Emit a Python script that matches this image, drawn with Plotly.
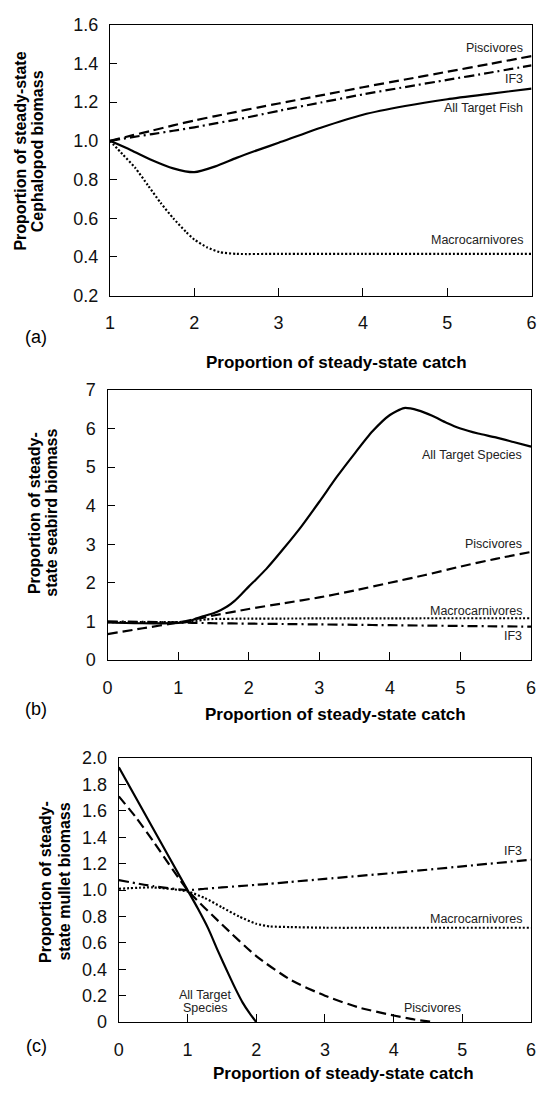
import plotly.graph_objects as go

W, H = 539, 1093
FONT = "Liberation Sans"

# ---- (a) Cephalopod biomass vs. catch multiplier ----
catch_a = [1.0, 1.25, 1.5, 1.75, 2.0, 2.25, 2.5, 2.75, 3.0, 3.5, 4.0, 4.5, 5.0, 5.5, 6.0]
a_piscivores = [1.0, 1.027, 1.053, 1.08, 1.105, 1.128, 1.15, 1.172, 1.193, 1.235, 1.277, 1.317, 1.357, 1.397, 1.438]
a_if3 = [1.0, 1.018, 1.035, 1.052, 1.07, 1.09, 1.11, 1.132, 1.155, 1.198, 1.24, 1.278, 1.315, 1.352, 1.39]
a_all_target = [1.0, 0.952, 0.9, 0.858, 0.838, 0.868, 0.912, 0.952, 0.99, 1.068, 1.135, 1.18, 1.215, 1.243, 1.27]
catch_a_macro = [1.0, 1.15, 1.3, 1.45, 1.6, 1.75, 1.9, 2.0, 2.15, 2.3, 2.5, 3.0, 4.0, 5.0, 6.0]
a_macro = [1.0, 0.93, 0.86, 0.77, 0.68, 0.6, 0.53, 0.49, 0.45, 0.425, 0.416, 0.416, 0.416, 0.416, 0.416]

# ---- (b) Seabird biomass ----
catch_b_all = [0.0, 0.5, 1.0, 1.15, 1.25, 1.35, 1.5, 1.6, 1.7, 1.8, 1.9, 2.0, 2.1, 2.25, 2.5, 2.75,
               3.0, 3.25, 3.5, 3.75, 4.0, 4.2, 4.4, 4.6, 4.8, 5.0, 5.25, 5.5, 5.75, 6.0]
b_all_target = [0.97, 0.95, 0.96, 0.99, 1.07, 1.13, 1.21, 1.29, 1.39, 1.53, 1.71, 1.9, 2.08, 2.36, 2.9, 3.47,
                4.1, 4.75, 5.35, 5.92, 6.35, 6.53, 6.47, 6.33, 6.15, 6.0, 5.87, 5.77, 5.65, 5.53]
catch_b = [0.0, 0.5, 1.0, 1.2, 1.4, 1.5, 2.0, 2.5, 3.0, 3.5, 4.0, 4.5, 5.0, 5.5, 6.0]
b_piscivores = [0.67, 0.82, 0.97, 1.04, 1.11, 1.15, 1.32, 1.47, 1.62, 1.8, 2.0, 2.2, 2.42, 2.62, 2.8]
b_macro = [0.98, 0.98, 0.98, 1.0, 1.05, 1.06, 1.07, 1.072, 1.075, 1.077, 1.078, 1.079, 1.08, 1.08, 1.08]
b_if3 = [1.0, 0.985, 0.97, 0.96, 0.955, 0.95, 0.94, 0.93, 0.92, 0.91, 0.9, 0.89, 0.88, 0.87, 0.862]

# ---- (c) Mullet biomass ----
catch_c_all = [0.0, 0.5, 1.0, 1.15, 1.3, 1.45, 1.6, 1.7, 1.8, 1.9, 2.0]
c_all_target = [1.93, 1.465, 1.0, 0.86, 0.71, 0.53, 0.36, 0.25, 0.15, 0.07, 0.0]
catch_c_pisc = [0.0, 0.25, 0.5, 1.0, 1.5, 2.0, 2.5, 3.0, 3.5, 4.0, 4.3, 4.6]
c_piscivores = [1.71, 1.55, 1.37, 1.0, 0.74, 0.5, 0.32, 0.2, 0.11, 0.05, 0.02, 0.0]
catch_c = [0.0, 0.5, 1.0, 1.25, 1.5, 1.75, 2.0, 2.2, 2.5, 3.0, 4.0, 5.0, 6.0]
c_if3 = [1.075, 1.03, 1.0, 1.01, 1.02, 1.03, 1.04, 1.048, 1.062, 1.085, 1.13, 1.18, 1.23]
c_macro = [1.01, 1.02, 0.99, 0.94, 0.87, 0.8, 0.745, 0.725, 0.72, 0.715, 0.715, 0.715, 0.715]

# tick labels
x_ticks = [0, 1, 2, 3, 4, 5, 6]
a_yticks = [0.2, 0.4, 0.6, 0.8, 1.0, 1.2, 1.4, 1.6]
b_yticks = [0, 1, 2, 3, 4, 5, 6, 7]
c_yticks = [0, 0.2, 0.4, 0.6, 0.8, 1.0, 1.2, 1.4, 1.6, 1.8, 2.0]
c_yticktext = ["0", "0.2", "0.4", "0.6", "0.8", "1.0", "1.2", "1.4", "1.6", "1.8", "2.0"]

SOLID = "solid"
DASH = "10px,5px"
DASHDOT = "10px,4px,2px,4px"
DOT = "2px,2px"
LW = 2.2


def px(x):
    return x / W


def py(y):
    return 1 - y / H


fig = go.Figure()


def add_line(x, y, dash, axis):
    fig.add_trace(go.Scatter(
        x=x, y=y, mode="lines", xaxis="x" + axis, yaxis="y" + axis,
        line=dict(color="black", width=LW, dash=dash, shape="spline", smoothing=0.6),
        hoverinfo="skip", showlegend=False))


# panel (a)
add_line(catch_a, a_piscivores, DASH, "")
add_line(catch_a, a_if3, DASHDOT, "")
add_line(catch_a, a_all_target, SOLID, "")
add_line(catch_a_macro, a_macro, DOT, "")
# panel (b)
add_line(catch_b, b_piscivores, DASH, "2")
add_line(catch_b, b_macro, DOT, "2")
add_line(catch_b, b_if3, DASHDOT, "2")
add_line(catch_b_all, b_all_target, SOLID, "2")
# panel (c)
add_line(catch_c, c_if3, DASHDOT, "3")
add_line(catch_c, c_macro, DOT, "3")
add_line(catch_c_pisc, c_piscivores, DASH, "3")
add_line(catch_c_all, c_all_target, SOLID, "3")


def xaxis(domain, rng, anchor):
    return dict(domain=domain, range=rng, anchor=anchor, showline=True, linecolor="black",
                linewidth=1.3, mirror=True, ticks="inside", ticklen=8, tickwidth=1.2,
                tickcolor="black", showgrid=False, zeroline=False, tickmode="array",
                tickvals=x_ticks, ticklabelstandoff=11, ticklabeloverflow="allow",
                tickfont=dict(family=FONT, size=18, color="#111"))


def yaxis(domain, rng, anchor, vals, text):
    return dict(domain=domain, range=rng, anchor=anchor, showline=True, linecolor="black",
                linewidth=1.3, mirror=True, ticks="inside", ticklen=7, tickwidth=1.2,
                tickcolor="black", showgrid=False, zeroline=False, tickmode="array",
                tickvals=vals, ticktext=text, ticklabelstandoff=7, ticklabeloverflow="allow",
                tickfont=dict(family=FONT, size=18, color="#111"))


fig.update_layout(
    width=W, height=H, margin=dict(l=0, r=0, t=0, b=0),
    paper_bgcolor="white", plot_bgcolor="white", showlegend=False,
    xaxis=xaxis([px(107), px(536.5)], [1, 6], "y"),
    yaxis=yaxis([py(291), py(15)], [0.2, 1.6], "x", a_yticks, [f"{v:.1f}" for v in a_yticks]),
    xaxis2=xaxis([px(104.5), px(536)], [0, 6], "y2"),
    yaxis2=yaxis([py(662), py(387)], [0, 7], "x2", b_yticks, [str(v) for v in b_yticks]),
    xaxis3=xaxis([px(116), px(536)], [0, 6], "y3"),
    yaxis3=yaxis([py(1031), py(762)], [0, 2.0], "x3", c_yticks, c_yticktext),
)

ann = []


def label(text, x, y, axis, anchor="right", size=12.5):
    ann.append(dict(text=text, x=x, y=y, xref="x" + axis, yref="y" + axis, xanchor=anchor,
                    yanchor="middle", showarrow=False,
                    font=dict(family=FONT, size=size, color="#222")))


def paper_text(text, x, y, size, bold=False, angle=0):
    ann.append(dict(text=f"<b>{text}</b>" if bold else text, x=px(x), y=py(y), xref="paper",
                    yref="paper", xanchor="center", yanchor="middle", showarrow=False,
                    textangle=angle, font=dict(family=FONT, size=size, color="black")))


# curve labels
label("Piscivores", 5.92, 1.478, "")
label("IF3", 5.92, 1.321, "")
label("All Target Fish", 5.92, 1.169, "")
label("Macrocarnivores", 5.92, 0.489, "")

label("All Target Species", 5.9, 5.32, "2")
label("Piscivores", 5.9, 3.005, "2")
label("Macrocarnivores", 5.9, 1.275, "2")
label("IF3", 5.9, 0.613, "2")

label("IF3", 5.894, 1.294, "3")
label("Macrocarnivores", 5.894, 0.781, "3")
label("All Target", 1.26, 0.208, "3", anchor="center")
label("Species", 1.26, 0.104, "3", anchor="center")
label("Piscivores", 4.57, 0.104, "3", anchor="center")

# axis titles
catch_title = "Proportion of steady-state catch"
paper_text(catch_title, 338, 359, 17, bold=True)
paper_text(catch_title, 337, 718, 17, bold=True)
paper_text(catch_title, 345, 1083, 17, bold=True)

paper_text("Proportion of steady-state", 15.5, 144, 16, bold=True, angle=-90)
paper_text("Cephalopod biomass", 32.5, 144, 16, bold=True, angle=-90)
paper_text("Proportion of steady-", 30, 512, 16, bold=True, angle=-90)
paper_text("state seabird biomass", 48, 512, 16, bold=True, angle=-90)
paper_text("Proportion of steady-", 42, 888, 16, bold=True, angle=-90)
paper_text("state mullet biomass", 61, 888, 16, bold=True, angle=-90)

# panel letters
paper_text("(a)", 32, 333, 18)
paper_text("(b)", 32, 712, 18)
paper_text("(c)", 32, 1055, 18)

fig.update_layout(annotations=ann)
fig.write_html("out.html")
